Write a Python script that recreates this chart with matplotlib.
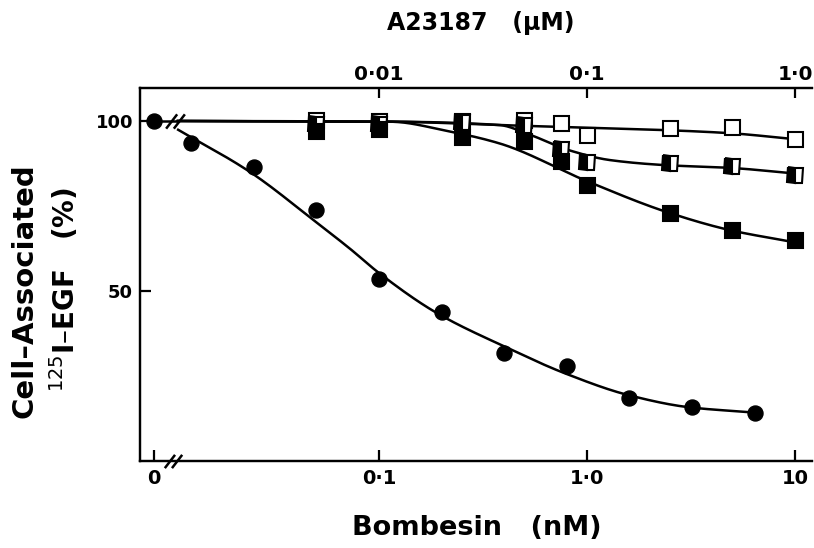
import numpy as np
import matplotlib
matplotlib.use("Agg")
import matplotlib.pyplot as plt
from matplotlib.path import Path

plt.rcParams['font.family'] = ['DejaVu Sans']
plt.rcParams['mathtext.fontset'] = 'dejavusans'

# ---------------- data ----------------
# Bombesin (nM) vs cell-associated 125I-EGF (%)
bombesin_conc = [0, 0.0125, 0.025, 0.05, 0.1, 0.2, 0.4, 0.8, 1.6, 3.2, 6.4]
bombesin_vals = [100, 93.5, 86.5, 73.8, 53.5, 43.8, 31.8, 28.0, 18.5, 15.9, 14.1]
# fitted curve
bombesin_curve_x = [0.0107, 0.024, 0.050, 0.073, 0.10, 0.19, 0.41, 0.79, 1.6, 3.1, 6.2]
bombesin_curve_y = [97.6, 85.0, 70.2, 62.3, 55.3, 43.5, 33.4, 25.7, 19.3, 15.8, 14.3]

# A23187 (uM) series
a23187_conc = [0.005, 0.01, 0.025, 0.05, 0.075, 0.1, 0.25, 0.5, 1.0]
open_vals   = [100.3, 100.0, 100.0, 100.3, 99.4, 95.9, 98.0, 98.3, 94.7]
half_vals   = [99.0, 99.0, 99.7, 98.8, 91.8, 88.0, 87.5, 86.8, 84.0]
filled_vals = [97.0, 97.5, 95.3, 94.0, 88.2, 81.2, 73.0, 68.0, 65.0]

open_curve_x = [0.00108, 0.0113, 0.038, 0.1, 0.24, 0.49, 0.98]
open_curve_y = [100.0, 99.8, 98.8, 98.0, 97.3, 96.4, 94.7]
half_curve_x = [0.00108, 0.0113, 0.038, 0.052, 0.08, 0.129, 0.24, 0.49, 0.98]
half_curve_y = [100.0, 99.8, 98.8, 96.2, 91.6, 88.5, 87.0, 86.2, 84.6]
filled_curve_x = [0.00108, 0.0113, 0.0219, 0.038, 0.1, 0.2425, 0.487, 0.978]
filled_curve_y = [100.0, 99.8, 96.9, 93.4, 82.3, 73.2, 67.9, 64.4]

bottom_ticks = [0, 0.1, 1.0, 10]
bottom_ticklabels = ["0", "0\u00b71", "1\u00b70", "10"]
top_ticks = [0.01, 0.1, 1.0]
top_ticklabels = ["0\u00b701", "0\u00b71", "1\u00b70"]
y_ticks = [50, 100]

# ---------------- layout constants ----------------
ZERO_X = 0.0083        # where "0" sits on the broken log axis
BREAK_X = 0.0105       # axis break position (bombesin units)
XLIM = (0.0071, 12.07)
YLIM = (0, 109.7)
A_PER_B = 0.1          # top axis: A23187 (uM) = bombesin (nM) position / 10


def smooth(xs, ys, n=300):
    """monotone cubic (PCHIP) in log-x space for drawing the fitted lines"""
    lx = np.log10(np.asarray(xs, float))
    y = np.asarray(ys, float)
    h = np.diff(lx)
    d = np.diff(y) / h
    m = np.zeros_like(y)
    m[0], m[-1] = d[0], d[-1]
    for k in range(1, len(y) - 1):
        if d[k - 1] * d[k] <= 0:
            m[k] = 0.0
        else:
            w1 = 2 * h[k] + h[k - 1]
            w2 = h[k] + 2 * h[k - 1]
            m[k] = (w1 + w2) / (w1 / d[k - 1] + w2 / d[k])
    t = np.linspace(lx[0], lx[-1], n)
    idx = np.clip(np.searchsorted(lx, t) - 1, 0, len(lx) - 2)
    hh = h[idx]
    s = (t - lx[idx]) / hh
    h00 = 2 * s**3 - 3 * s**2 + 1
    h10 = s**3 - 2 * s**2 + s
    h01 = -2 * s**3 + 3 * s**2
    h11 = s**3 - s**2
    yy = h00 * y[idx] + h10 * hh * m[idx] + h01 * y[idx + 1] + h11 * hh * m[idx + 1]
    return 10**t, yy


fig = plt.figure(figsize=(8.14, 5.48), dpi=100)
ax = fig.add_axes([140 / 814, 1 - 461 / 548, 672 / 814, 373 / 548])
ax.set_xscale('log')
ax.set_xlim(*XLIM)
ax.set_ylim(*YLIM)

LW = 1.8
MS = 10.8

# bombesin curve
cx, cy = smooth(bombesin_curve_x, bombesin_curve_y)
ax.plot(cx, cy, color='black', lw=LW, zorder=2, solid_capstyle='butt')
# control line at 100% from the zero point up to the break
ax.plot([ZERO_X, BREAK_X * 1.03], [bombesin_vals[0], bombesin_vals[0]],
        color='black', lw=LW, zorder=2)
bx = [ZERO_X if c == 0 else c for c in bombesin_conc]
ax.plot(bx, bombesin_vals, 'o', color='black', ms=MS, zorder=5)

# top axis for A23187
ax2 = ax.twiny()
ax2.set_xscale('log')
ax2.set_xlim(XLIM[0] * A_PER_B, XLIM[1] * A_PER_B)
ax2.set_ylim(*YLIM)

for xs, ys in [(open_curve_x, open_curve_y), (half_curve_x, half_curve_y),
               (filled_curve_x, filled_curve_y)]:
    sx, sy = smooth(xs, ys)
    ax2.plot(sx, sy, color='black', lw=LW, zorder=2)

ax2.plot(a23187_conc, open_vals, 's', ms=MS, mfc='white', mec='black',
         mew=1.5, zorder=3)
ax2.plot(a23187_conc, half_vals, 's', ms=MS, mfc='black', mec='black',
         mfcalt='white', fillstyle='left', mew=1.5, zorder=4)
ax2.plot(a23187_conc, filled_vals, 's', ms=MS, mfc='black', mec='black',
         mew=1.5, zorder=5)

# axis break marks "//"
brk = Path([(-8.5, -6.5), (1.5, 6.5), (-1.5, -6.5), (8.5, 6.5)],
           [Path.MOVETO, Path.LINETO, Path.MOVETO, Path.LINETO])
ax.plot([BREAK_X * 0.97], [YLIM[0]], marker=brk, ms=12.5, mec='black',
        mew=1.8, ls='none', clip_on=False, zorder=6)
ax.plot([BREAK_X], [100], marker=brk, ms=13.5, mec='black',
        mew=1.8, ls='none', clip_on=False, zorder=6)

# spines
for a in (ax, ax2):
    a.spines['right'].set_visible(False)
    for s in ('left', 'bottom', 'top'):
        a.spines[s].set_linewidth(1.6)
    a.minorticks_off()

# bottom ticks
ax.set_xticks([ZERO_X if t == 0 else t for t in bottom_ticks])
ax.set_xticklabels(bottom_ticklabels)
ax.xaxis.set_minor_locator(matplotlib.ticker.NullLocator())
ax.tick_params(axis='x', which='major', direction='in', length=8, width=1.6,
               pad=6, labelsize=14)
for lab in ax.get_xticklabels():
    lab.set_fontweight('bold')

# left ticks
ax.set_yticks(y_ticks)
ax.set_yticklabels([str(v) for v in y_ticks])
ax.tick_params(axis='y', direction='in', length=8, width=1.6, pad=5,
               labelsize=13)
for lab in ax.get_yticklabels():
    lab.set_fontweight('bold')

# top ticks
ax2.set_xticks(top_ticks)
ax2.set_xticklabels(top_ticklabels)
ax2.xaxis.set_minor_locator(matplotlib.ticker.NullLocator())
ax2.tick_params(axis='x', which='major', direction='in', length=7, width=1.6,
                pad=3, labelsize=14.5)
ax2.tick_params(axis='y', left=False, right=False, labelleft=False,
                labelright=False)
for lab in ax2.get_xticklabels():
    lab.set_fontweight('bold')

# axis titles
fig.text(481 / 814, 1 - 23 / 548, "A23187   (\u00b5M)", ha='center',
         va='center', fontsize=17, fontweight='bold')
fig.text(477 / 814, 1 - 528 / 548, "Bombesin   (nM)", ha='center',
         va='center', fontsize=19.5, fontweight='bold')
fig.text(25 / 814, 1 - 291 / 548, "Cell\u2013Associated", rotation=90,
         ha='center', va='center', fontsize=21, fontweight='bold')
fig.text(65 / 814, 1 - 290 / 548, "$^{125}$I\u2013EGF   (%)", rotation=90,
         ha='center', va='center', fontsize=20, fontweight='bold')

fig.savefig("out.png", dpi=100)
